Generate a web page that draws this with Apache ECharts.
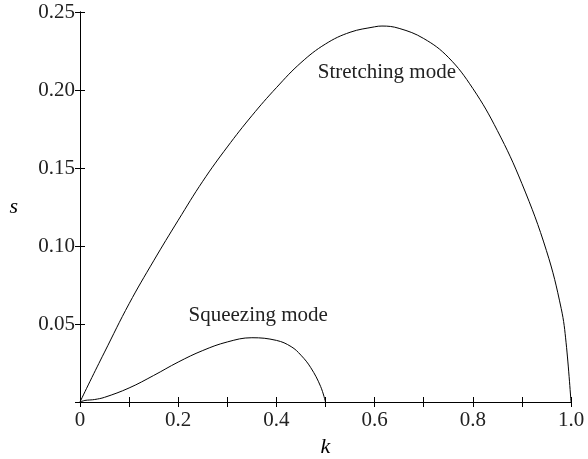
<!DOCTYPE html>
<html>
<head>
<meta charset="utf-8">
<script src="https://cdn.jsdelivr.net/npm/echarts@6/dist/echarts.min.js"></script>
<style>
html,body{margin:0;padding:0;background:#fff;}
#chart{width:588px;height:459px;}
</style>
</head>
<body>
<div id="chart"></div>
<script>
// Data
var stretchK = [0, 0.02, 0.05, 0.1, 0.15, 0.2, 0.25, 0.3, 0.35, 0.4, 0.45, 0.5, 0.55, 0.6, 0.615, 0.65, 0.7, 0.75, 0.8, 0.85, 0.9, 0.95, 0.98, 0.99, 1.0];
var stretchS = [0, 0.013, 0.032, 0.063, 0.0905, 0.1165, 0.1415, 0.1635, 0.1835, 0.2015, 0.2175, 0.2295, 0.2370, 0.2405, 0.241, 0.2395, 0.233, 0.221, 0.201, 0.174, 0.140, 0.097, 0.060, 0.038, 0];
var squeezeK = [0, 0.01, 0.02, 0.03, 0.05, 0.1, 0.15, 0.2, 0.25, 0.3, 0.35, 0.4, 0.43, 0.45, 0.47, 0.49, 0.5];
var squeezeS = [0, 0.001, 0.0013, 0.0016, 0.003, 0.009, 0.017, 0.0256, 0.033, 0.0385, 0.0412, 0.0395, 0.0355, 0.030, 0.022, 0.010, 0];
var xTickLabels = ['0', '', '0.2', '', '0.4', '', '0.6', '', '0.8', '', '1.0'];
var yTickLabels = ['', '0.05', '0.10', '0.15', '0.20', '0.25'];
var annotations = [
  {name: 'Stretching mode', coord: [0.625, 0.2115]},
  {name: 'Squeezing mode', coord: [0.363, 0.0555]}
];

function pairs(xs, ys) { return xs.map(function (x, i) { return [x, ys[i]]; }); }

var FONT = 'Liberation Serif';
var axisLine = {show: true, lineStyle: {color: '#000', width: 1}};
var chart = echarts.init(document.getElementById('chart'));
chart.setOption({
  animation: false,
  backgroundColor: '#fff',
  grid: {left: 80, right: 17, top: 12, bottom: 57, containLabel: false, outerBoundsMode: 'none'},
  xAxis: [{
    type: 'value', min: 0, max: 1, interval: 0.1, position: 'bottom',
    name: 'k', nameLocation: 'middle', nameGap: 33,
    nameTextStyle: {fontFamily: FONT, fontStyle: 'italic', fontSize: 22, color: '#000'},
    axisLine: axisLine,
    axisTick: {inside: true, length: 5, lineStyle: {color: '#000'}},
    axisLabel: {fontFamily: FONT, fontSize: 21, color: '#222', margin: 8,
      formatter: function (v, i) { return xTickLabels[Math.round(v * 10)]; }},
    splitLine: {show: false}
  }, {
    type: 'value', min: 0, max: 1, interval: 0.1, position: 'top',
    axisLine: axisLine,
    axisTick: {inside: true, length: 5, lineStyle: {color: '#000'}},
    axisLabel: {show: false}, splitLine: {show: false}
  }],
  yAxis: [{
    type: 'value', min: 0, max: 0.25, interval: 0.05, position: 'left',
    name: 's', nameLocation: 'middle', nameGap: 62, nameRotate: 0,
    nameTextStyle: {fontFamily: FONT, fontStyle: 'italic', fontSize: 22, color: '#000'},
    axisLine: axisLine,
    axisTick: {inside: true, length: 5, lineStyle: {color: '#000'}},
    axisLabel: {fontFamily: FONT, fontSize: 21, color: '#222', margin: 5,
      formatter: function (v) { return yTickLabels[Math.round(v * 20)]; }},
    splitLine: {show: false}
  }, {
    type: 'value', min: 0, max: 0.25, interval: 0.05, position: 'right',
    axisLine: axisLine,
    axisTick: {inside: true, length: 5, lineStyle: {color: '#000'}},
    axisLabel: {show: false}, splitLine: {show: false}
  }],
  series: [{
    name: 'Stretching mode', type: 'line', xAxisIndex: 0, yAxisIndex: 0,
    data: pairs(stretchK, stretchS), smooth: 0.4, showSymbol: false,
    lineStyle: {color: '#000', width: 1},
    markPoint: {
      symbol: 'circle', symbolSize: 0,
      label: {show: true, position: 'inside', formatter: '{b}', fontFamily: FONT, fontSize: 21, color: '#222'},
      data: [annotations[0]]
    }
  }, {
    name: 'Squeezing mode', type: 'line', xAxisIndex: 0, yAxisIndex: 0,
    data: pairs(squeezeK, squeezeS), smooth: 0.4, showSymbol: false,
    lineStyle: {color: '#000', width: 1},
    markPoint: {
      symbol: 'circle', symbolSize: 0,
      label: {show: true, position: 'inside', formatter: '{b}', fontFamily: FONT, fontSize: 21, color: '#222'},
      data: [annotations[1]]
    }
  }]
});
</script>
</body>
</html>
